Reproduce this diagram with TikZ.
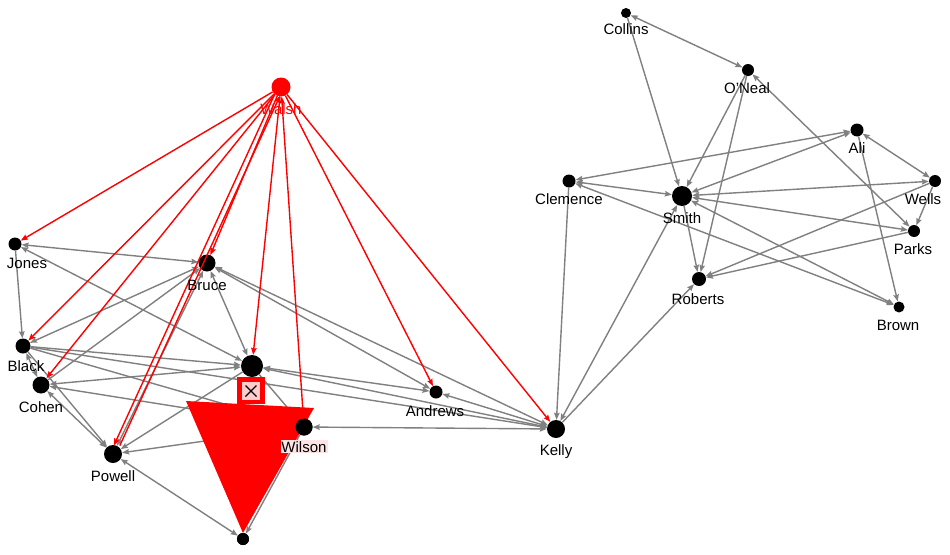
\documentclass[tikz,border=0pt]{standalone}
\usepackage{fontspec}
\setmainfont{Liberation Sans}
\usetikzlibrary{arrows.meta}
\definecolor{edgegray}{HTML}{808080}
\definecolor{labpink}{HTML}{FCE4E4}
\definecolor{boxpink}{HTML}{FFCCCC}
\begin{document}
\begin{tikzpicture}[x=1pt,y=-1pt,
  vert/.style={circle,fill=black,inner sep=0pt,minimum size=#1},
  rvert/.style={circle,fill=red,inner sep=0pt,minimum size=#1},
  lab/.style={anchor=base,inner sep=1pt,font=\fontsize{15}{17}\selectfont},
  ge/.style={draw=edgegray,line width=1.4pt,-{Stealth[length=7pt,width=5.5pt,inset=1pt]}},
  gb/.style={draw=edgegray,line width=1.4pt,{Stealth[length=7pt,width=5.5pt,inset=1pt]}-{Stealth[length=7pt,width=5.5pt,inset=1pt]}},
  re/.style={draw=red,line width=1.4pt,-{Stealth[length=7pt,width=5.5pt,inset=1pt]}}
]
\useasboundingbox (0,0) rectangle (950,554);
\fill[white] (0,0) rectangle (950,554);
% vertices
\node[rvert=19pt] (walsh) at (281,87) {};
\node[vert=13pt] (jones) at (15,244) {};
\node[vert=17pt] (bruce) at (207,263) {};
\node[vert=15pt] (black) at (23,346) {};
\node[vert=17pt] (cohen) at (41,385) {};
\node[vert=22pt] (center) at (252,366) {};
\node[vert=18pt] (powell) at (113,454) {};
\node[vert=12pt] (bottom) at (243,539) {};
\node[vert=17pt] (wilson) at (304,427) {};
\node[vert=13pt] (andrews) at (436,392) {};
\node[vert=18pt] (kelly) at (556,429) {};
\node[vert=10pt] (collins) at (626,13) {};
\node[vert=12pt] (oneal) at (748,70) {};
\node[vert=13pt] (ali) at (857,130) {};
\node[vert=13pt] (clemence) at (569,181) {};
\node[vert=20pt] (smith) at (682,196) {};
\node[vert=12pt] (wells) at (935,181) {};
\node[vert=12pt] (parks) at (914,231) {};
\node[vert=14pt] (roberts) at (699,279) {};
\node[vert=11pt] (brown) at (899,307) {};
% gray edges
\draw[gb] (jones) -- (bruce);
\draw[gb] (jones) -- (center);
\draw[ge] (jones) -- (black);
\draw[gb] (bruce) -- (black);
\draw[ge] (cohen) -- (bruce);
\draw[gb] (bruce) -- (center);
\draw[gb] (bruce) -- (powell);
\draw[gb] (bruce) -- (andrews);
\draw[gb] (bruce) -- (kelly);
\draw[gb] (black) -- (cohen);
\draw[ge] (black) -- (center);
\draw[ge] (black) -- (wilson);
\draw[ge] (black) -- (kelly);
\draw[ge] (black) -- (powell);
\draw[gb] (cohen) -- (center);
\draw[ge] (wilson) -- (cohen);
\draw[gb] (cohen) -- (powell);
\draw[ge] (center) -- (powell);
\draw[ge] (wilson) -- (powell);
\draw[ge] (center) -- (wilson);
\draw[gb] (center) -- (andrews);
\draw[ge] (kelly) -- (center);
\draw[gb] (andrews) -- (kelly);
\draw[gb] (wilson) -- (kelly);
\draw[gb] (powell) -- (bottom);
\draw[ge] (wilson) -- (bottom);
\draw[gb] (collins) -- (oneal);
\draw[ge] (collins) -- (smith);
\draw[ge] (oneal) -- (smith);
\draw[ge] (oneal) -- (roberts);
\draw[gb] (oneal) -- (parks);
\draw[gb] (ali) -- (clemence);
\draw[gb] (smith) -- (ali);
\draw[gb] (ali) -- (wells);
\draw[ge] (ali) -- (brown);
\draw[gb] (clemence) -- (smith);
\draw[gb] (brown) -- (clemence);
\draw[gb] (smith) -- (wells);
\draw[gb] (smith) -- (parks);
\draw[ge] (smith) -- (roberts);
\draw[gb] (smith) -- (brown);
\draw[ge] (wells) -- (parks);
\draw[ge] (wells) -- (roberts);
\draw[ge] (parks) -- (roberts);
\draw[ge] (clemence) -- (kelly);
\draw[gb] (kelly) -- (smith);
\draw[ge] (kelly) -- (roberts);
% red edges
\draw[re] (walsh) -- (jones);
\draw[re] (walsh) -- (black);
\draw[re] (walsh) -- (cohen);
\draw[re] (walsh) -- (bruce);
\draw[re,transform canvas={xshift=-3pt}] (walsh) -- (powell);
\draw[re,transform canvas={xshift=3pt}] (powell) -- (walsh);
\draw[re] (walsh) -- (center);
\draw[re] (wilson) -- (walsh);
\draw[re] (walsh) -- (andrews);
\draw[re] (walsh) -- (kelly);
% red marker
\fill[red] (186,401) -- (314,408) -- (243,533) -- cycle;
\fill[red] (237,377) rectangle (265,404);
\fill[boxpink] (242,382) rectangle (260,400);
\draw[black,line width=1.3pt] (245.5,385.5) -- (256.5,396.5) (256.5,385.5) -- (245.5,396.5);
% redraw nodes over marker
\node[vert=17pt] at (wilson) {};
\node[vert=12pt] at (bottom) {};
% labels
\node[lab,text=red] (l-walsh) at (281,114) {Walsh};
\node[lab] (l-jones) at (27,268) {Jones};
\node[lab] (l-bruce) at (207,290) {Bruce};
\node[lab] (l-black) at (26,371) {Black};
\node[lab] (l-cohen) at (41,412) {Cohen};
\node[lab] (l-powell) at (113,481) {Powell};
\node[lab,fill=labpink] (l-wilson) at (304,452) {Wilson};
\node[lab] (l-andrews) at (435,416) {Andrews};
\node[lab] (l-kelly) at (556,455) {Kelly};
\node[lab] (l-collins) at (626,34) {Collins};
\node[lab] (l-oneal) at (747,93) {O'Neal};
\node[lab] (l-ali) at (857,153) {Ali};
\node[lab] (l-clemence) at (569,204) {Clemence};
\node[lab] (l-smith) at (682,223) {Smith};
\node[lab] (l-wells) at (923,204) {Wells};
\node[lab] (l-parks) at (913,254) {Parks};
\node[lab] (l-roberts) at (698,304) {Roberts};
\node[lab] (l-brown) at (898,330) {Brown};
\end{tikzpicture}
\end{document}
